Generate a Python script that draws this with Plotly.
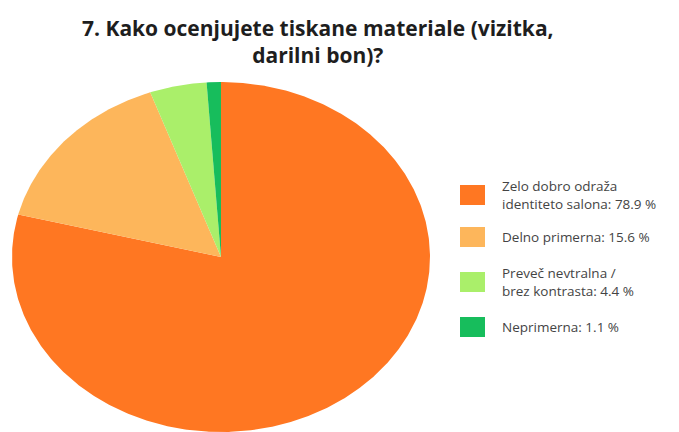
import numpy as np
import plotly.graph_objects as go

# Survey answers and their shares (%)
categories = [
    "Zelo dobro odraža<br>identiteto salona",
    "Delno primerna",
    "Preveč nevtralna /<br>brez kontrasta",
    "Neprimerna",
]
shares = [78.9, 15.6, 4.4, 1.1]
colors = ["#FF7722", "#FDB65B", "#AAEF6A", "#17BD5C"]

title_text = "7. Kako ocenjujete tiskane materiale (vizitka,<br>darilni bon)?"

W, H = 679, 432

# Pie geometry in pixels: centre and radii (horizontal / vertical)
cx, cy = 221, 257
rx, ry = 209, 175


def px_x(p):
    return p / W


def px_y(p):
    return 1 - p / H


fig = go.Figure()

# Slices: clockwise from 12 o'clock, built from cumulative shares
total = sum(shares)
start = 0.0
for name, val, col in zip(categories, shares, colors):
    a0 = start / total * 2 * np.pi
    a1 = (start + val) / total * 2 * np.pi
    n = max(4, int(np.degrees(a1 - a0) * 2))
    t = np.linspace(a0, a1, n)
    xs = np.concatenate([[0], np.sin(t), [0]])
    ys = np.concatenate([[0], np.cos(t), [0]])
    fig.add_trace(go.Scatter(
        x=xs, y=ys, mode="lines", fill="toself",
        fillcolor=col, line=dict(width=0, color=col),
        name=name.replace("<br>", " "), hoverinfo="name",
        showlegend=False,
    ))
    start += val

# Legend: coloured squares with labels
legend_centres = [195, 237, 282, 327]
for name, val, col, yc in zip(categories, shares, colors, legend_centres):
    fig.add_shape(
        type="rect", xref="paper", yref="paper",
        x0=px_x(460), x1=px_x(485), y0=px_y(yc + 10), y1=px_y(yc - 10),
        fillcolor=col, line=dict(width=0),
    )
    fig.add_annotation(
        xref="paper", yref="paper", x=px_x(500), y=px_y(yc),
        xanchor="left", yanchor="middle", align="left",
        text=f"{name}: {val:.1f} %", showarrow=False,
        font=dict(family="Open Sans", size=13.5, color="#444444"),
    )

fig.add_annotation(
    xref="paper", yref="paper", x=px_x(318), y=px_y(41),
    xanchor="center", yanchor="middle", align="center",
    text=f"<b>{title_text}</b>", showarrow=False,
    font=dict(family="Open Sans", size=21, color="#1e1e1e"),
)

fig.update_layout(
    width=W, height=H,
    margin=dict(l=0, r=0, t=0, b=0),
    paper_bgcolor="white", plot_bgcolor="white",
    xaxis=dict(range=[-cx / rx, (W - cx) / rx], visible=False, fixedrange=True),
    yaxis=dict(range=[-(H - cy) / ry, cy / ry], visible=False, fixedrange=True),
    showlegend=False,
)

fig.write_html("out.html")
